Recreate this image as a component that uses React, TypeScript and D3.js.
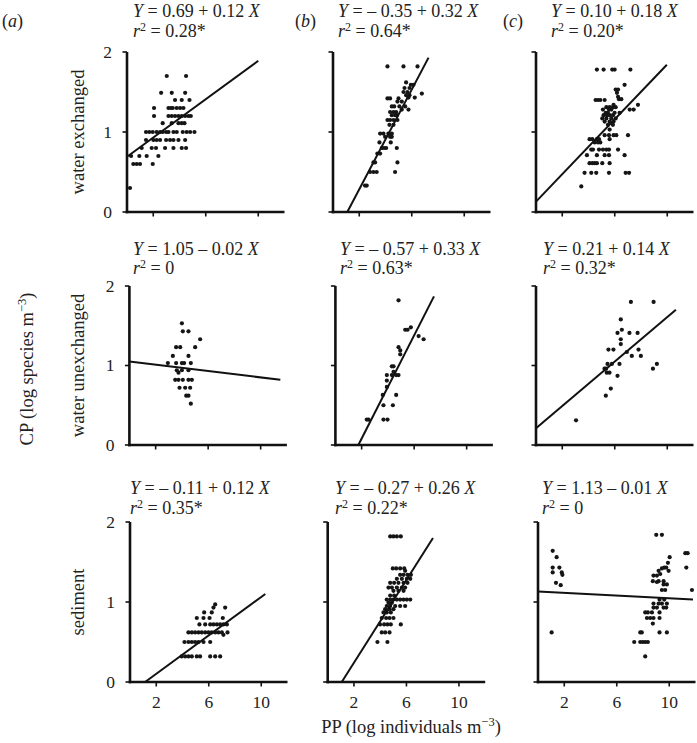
import React from "react";
import * as d3 from "d3";

type Row = [number, number[]];

// ---------- data (X = log individuals, Y = log species) ----------
const rowNames = ["water exchanged", "water unexchanged", "sediment"];
const colLabels = ["(a)", "(b)", "(c)"];
const xTicks = [2, 6, 10];
const yTicks = [0, 1, 2];

const eqText = [
  ["0.69 + 0.12", "– 0.35 + 0.32", "0.10 + 0.18"],
  ["1.05 – 0.02", "– 0.57 + 0.33", "0.21 + 0.14"],
  ["– 0.11 + 0.12", "– 0.27 + 0.26", "1.13 – 0.01"],
];
const r2Text = [
  ["0.28*", "0.64*", "0.20*"],
  ["0", "0.63*", "0.32*"],
  ["0.35*", "0.22*", "0"],
];

// fitted line end points [x0, y0, x1, y1]
const fitLines = [
  [[0, 0.69, 10, 1.89], [1.09, 0, 7.28, 1.93], [0, 0.13, 9.97, 1.84]],
  [[0, 1.05, 11.5, 0.82], [1.75, 0, 7.51, 1.87], [0, 0.21, 10.66, 1.7]],
  [[1.15, 0, 10.31, 1.1], [1.07, 0, 8.02, 1.8], [0, 1.13, 11.81, 1.03]],
];

const exA: Row[] = [
  [1.7, [3.03, 4.5]],
  [1.49, [2.6, 3.41, 4.43]],
  [1.4, [3.66, 4.17, 4.76]],
  [1.3, [2.06, 3.16, 3.35, 3.49, 3.79, 4.05, 4.3]],
  [1.2, [2.06, 3.16, 3.41, 3.66, 3.92, 4.17, 4.43, 4.68, 4.86]],
  [1.11, [2.72, 3.41, 3.92, 4.17, 4.38]],
  [1.0, [1.45, 1.7, 1.96, 2.26, 2.52, 2.72, 2.98, 3.16, 3.54, 3.79, 4.25, 4.55, 4.81, 5.14]],
  [0.9, [1.45, 2.01, 2.26, 2.52, 2.98, 3.28, 3.54, 3.92, 4.43]],
  [0.8, [1.12, 1.88, 2.21, 2.9, 3.54, 4.17, 4.5]],
  [0.7, [0.31, 0.94, 1.5, 2.39]],
  [0.6, [0.48, 0.74, 0.99, 1.96]],
  [0.3, [0.23]],
];
const exB: Row[] = [
  [1.82, [4.15, 5.37, 6.44]],
  [1.62, [5.57]],
  [1.59, [5.93, 6.13]],
  [1.55, [5.45, 5.83]],
  [1.5, [5.37, 5.67]],
  [1.48, [6.77]],
  [1.46, [5.57, 5.83]],
  [1.43, [5.75, 6.23]],
  [1.42, [4.15, 4.35, 4.99]],
  [1.38, [4.91, 5.24]],
  [1.32, [4.48, 4.66, 5.06, 5.5]],
  [1.28, [5.24, 5.75]],
  [1.25, [4.35, 4.61, 4.81]],
  [1.21, [4.48, 4.73, 4.86]],
  [1.15, [4.15, 4.35, 4.61, 4.91]],
  [1.09, [4.3, 4.61]],
  [0.98, [3.59, 3.84, 4.22, 4.48]],
  [0.94, [3.97, 4.35, 4.48]],
  [0.87, [3.54, 4.4]],
  [0.8, [3.72, 3.89, 4.05, 4.86]],
  [0.73, [3.38, 3.59]],
  [0.62, [3.08, 3.21, 4.91]],
  [0.5, [2.82, 3.08, 3.33, 4.73]],
  [0.33, [2.44, 2.57]],
];
const exC: Row[] = [
  [1.78, [4.64, 5.15, 5.81, 5.99, 7.19]],
  [1.59, [6.75]],
  [1.53, [6.07, 6.25]],
  [1.49, [6.17]],
  [1.44, [6.25]],
  [1.41, [6.32, 6.5]],
  [1.4, [4.54, 4.72, 4.9, 5.23]],
  [1.34, [5.91, 7.77]],
  [1.31, [5.36, 5.61, 5.86, 6.07]],
  [1.28, [5.1, 5.56, 5.74, 7.14, 7.44]],
  [1.24, [5.31, 5.48, 5.99, 6.37]],
  [1.21, [5.15, 5.41, 5.61, 5.86]],
  [1.17, [5.05, 5.36, 5.74, 6.07]],
  [1.13, [5.23, 5.61, 5.91]],
  [1.09, [5.48, 5.86]],
  [1.03, [5.61]],
  [0.96, [5.23, 5.56, 5.91, 6.12, 7.01]],
  [0.91, [4.08, 4.29, 4.64, 4.8, 5.61]],
  [0.87, [4.47, 4.72, 4.9]],
  [0.78, [4.21, 4.34, 4.8, 5.1, 5.36, 5.56, 6.25]],
  [0.71, [3.88, 4.64, 5.23, 5.56, 6.75]],
  [0.61, [4.08, 4.29, 4.47, 4.64, 5.05, 5.61]],
  [0.49, [3.7, 4.21, 4.59, 5.56, 6.83, 7.09]],
  [0.32, [3.45]],
];
const unA: Row[] = [
  [1.53, [4.0]],
  [1.43, [4.07, 4.5]],
  [1.33, [5.39]],
  [1.23, [3.56, 3.87, 5.01]],
  [1.12, [3.31, 4.5]],
  [1.03, [2.93, 3.56, 4.0, 4.17, 4.68]],
  [0.94, [3.61, 4.0, 4.5]],
  [0.91, [3.74]],
  [0.82, [3.49, 3.74, 4.07, 4.5, 4.76]],
  [0.72, [3.82, 4.25, 4.63]],
  [0.62, [4.33, 4.5]],
  [0.52, [4.68]],
];
const unB: Row[] = [
  [1.82, [4.81]],
  [1.48, [5.75]],
  [1.45, [5.32, 5.5]],
  [1.37, [6.34]],
  [1.33, [6.72]],
  [1.23, [4.81]],
  [1.19, [4.94]],
  [1.14, [4.94]],
  [0.99, [4.3, 4.43]],
  [0.92, [4.43]],
  [0.88, [3.92, 4.3, 4.63, 4.81]],
  [0.81, [3.92]],
  [0.73, [3.92]],
  [0.63, [3.61, 4.63]],
  [0.5, [3.66, 4.38]],
  [0.32, [2.39, 2.52, 3.66, 3.97]],
];
const unC: Row[] = [
  [1.8, [7.23, 8.96]],
  [1.58, [6.46]],
  [1.45, [6.54]],
  [1.41, [6.21, 7.12, 7.74]],
  [1.33, [6.46]],
  [1.27, [6.46]],
  [1.2, [5.52, 5.9, 7.81]],
  [1.17, [6.92]],
  [1.12, [7.3, 7.99]],
  [1.02, [5.45, 5.78, 6.36, 9.21]],
  [0.96, [5.22, 5.34, 8.91]],
  [0.91, [5.39, 5.6]],
  [0.87, [6.21]],
  [0.71, [5.7]],
  [0.62, [5.32]],
  [0.31, [3.05]],
];
const sedA: Row[] = [
  [0.97, [6.49]],
  [0.93, [6.36, 7.25]],
  [0.87, [5.65, 6.23]],
  [0.8, [5.09, 5.6, 6.06, 7.07]],
  [0.72, [5.29, 5.73, 6.11, 6.36, 6.62, 6.87, 7.12, 7.38]],
  [0.62, [4.45, 4.71, 4.96, 5.22, 5.47, 5.73, 5.98, 6.23, 6.49, 6.74, 7.0, 7.43]],
  [0.59, [7.12]],
  [0.5, [4.15, 4.45, 4.71, 4.96, 5.22, 5.6, 6.11]],
  [0.32, [3.94, 4.2, 4.45, 4.71, 5.09, 5.34, 6.11, 6.49, 6.87]],
];
const sedB: Row[] = [
  [1.82, [4.76, 5.01, 5.27, 5.57]],
  [1.42, [4.96, 5.22, 5.52, 5.83]],
  [1.39, [5.9]],
  [1.34, [5.52, 5.78, 6.08, 6.34]],
  [1.29, [5.27, 5.65, 6.03, 6.29]],
  [1.24, [4.76, 5.06, 5.39, 5.78, 6.08]],
  [1.18, [4.63, 4.89, 5.27, 5.65, 5.9]],
  [1.14, [5.01, 5.39, 5.78]],
  [1.08, [4.76, 5.06]],
  [1.03, [4.5, 4.76, 5.01, 5.27, 5.52, 5.78, 6.03, 6.29]],
  [0.99, [4.63, 4.89]],
  [0.95, [4.5, 4.76, 5.14, 5.52, 5.9]],
  [0.91, [4.38, 4.71, 5.01]],
  [0.87, [4.25, 4.5, 4.81]],
  [0.8, [4.12, 4.45, 4.71, 5.01]],
  [0.72, [3.99, 4.3, 4.55, 4.81, 5.57]],
  [0.62, [4.12, 4.38, 4.71]],
  [0.5, [3.79, 4.55]],
];
const sedC: Row[] = [
  [1.84, [9.01, 9.44]],
  [1.64, [1.12]],
  [1.61, [11.22, 11.4]],
  [1.56, [1.42, 10.03]],
  [1.49, [9.9]],
  [1.43, [1.12, 1.63, 9.62, 9.77, 11.3]],
  [1.42, [9.44]],
  [1.39, [9.19, 9.95]],
  [1.37, [1.12, 1.81]],
  [1.35, [9.31]],
  [1.34, [1.86]],
  [1.33, [8.8, 9.06]],
  [1.26, [8.75, 9.19, 9.57]],
  [1.25, [9.06]],
  [1.24, [1.37]],
  [1.22, [9.57, 9.82]],
  [1.21, [1.73]],
  [1.15, [9.44, 9.69, 11.73]],
  [1.03, [9.26, 9.62]],
  [0.98, [8.8, 9.19, 9.44, 9.82]],
  [0.93, [8.8, 9.06, 9.57, 9.77]],
  [0.87, [8.17, 8.37, 8.68, 9.26]],
  [0.8, [8.3, 8.55, 8.8, 9.26]],
  [0.73, [8.75]],
  [0.62, [1.04, 7.79, 7.91, 9.26, 9.82]],
  [0.5, [7.33, 7.79, 7.99, 8.17, 8.37]],
  [0.32, [8.17]],
];

const panelData: Row[][][] = [
  [exA, exB, exC],
  [unA, unB, unC],
  [sedA, sedB, sedC],
];

// ---------- layout ----------
const W = 697;
const H = 743;
const panelX0 = [
  [127, 333, 536],
  [129.4, 335.4, 536],
  [130, 327.7, 538],
];
const panelY0 = [212, 445, 682];
const xSpan = 157.5;
const ySpan = [160, 159, 160];
const eqX = [
  [133, 338, 551],
  [133, 340, 543],
  [130, 335, 542],
];
const eqY = [
  [17, 37],
  [255, 274],
  [494, 514],
];
const colLabelX = [2, 295, 503];
const FONT = "'Liberation Serif', 'Times New Roman', Times, serif";

export default function App() {
  const items: React.ReactNode[] = [];

  panelData.forEach((row, ri) => {
    row.forEach((rows, ci) => {
      const x0 = panelX0[ri][ci];
      const y0 = panelY0[ri];
      const x = d3.scaleLinear().domain([0, 12]).range([x0, x0 + xSpan]);
      const y = d3.scaleLinear().domain([0, 2]).range([y0, y0 - ySpan[ri]]);
      const key = `p${ri}${ci}`;

      // axes
      items.push(
        <line key={key + "ya"} x1={x(0)} x2={x(0)} y1={y(0) + 1.3} y2={y(2)} stroke="#111" strokeWidth={2.6} />,
        <line key={key + "xa"} x1={x(0) - 1.3} x2={x(12)} y1={y(0)} y2={y(0)} stroke="#111" strokeWidth={2.6} />
      );
      yTicks.forEach((t) => {
        items.push(
          <line key={key + "yt" + t} x1={x(0) - 4.5} x2={x(0)} y1={y(t)} y2={y(t)} stroke="#111" strokeWidth={1.6} />
        );
        if (ci === 0) {
          items.push(
            <text key={key + "yl" + t} x={x(0) - 15} y={y(t)} dy="0.34em" textAnchor="end" fontSize={17.5} fontFamily={FONT} fill="#222">
              {t}
            </text>
          );
        }
      });
      xTicks.forEach((t) => {
        items.push(
          <line key={key + "xt" + t} x1={x(t)} x2={x(t)} y1={y(0)} y2={y(0) + 4.5} stroke="#111" strokeWidth={1.6} />
        );
        if (ri === 2) {
          items.push(
            <text key={key + "xl" + t} x={x(t)} y={708} textAnchor="middle" fontSize={17.5} fontFamily={FONT} fill="#222">
              {t}
            </text>
          );
        }
      });

      // points
      rows.forEach(([yv, xs], k) => {
        xs.forEach((xv, j) => {
          items.push(<circle key={key + "c" + k + "_" + j} cx={x(xv)} cy={y(yv)} r={2.1} fill="#151515" />);
        });
      });

      // fit line
      const f = fitLines[ri][ci];
      const path = d3.line<[number, number]>()
        .x((d) => x(d[0]))
        .y((d) => y(d[1]))([[f[0], f[1]], [f[2], f[3]]]);
      items.push(<path key={key + "fit"} d={path || ""} stroke="#111" strokeWidth={2} fill="none" />);

      // equations
      items.push(
        <text key={key + "eq"} x={eqX[ri][ci]} y={eqY[ri][0]} fontSize={18} fontFamily={FONT} fill="#222">
          <tspan fontStyle="italic">Y</tspan>
          {" = " + eqText[ri][ci] + " "}
          <tspan fontStyle="italic">X</tspan>
        </text>,
        <text key={key + "r2"} x={eqX[ri][ci]} y={eqY[ri][1]} fontSize={18} fontFamily={FONT} fill="#222">
          <tspan fontStyle="italic">r</tspan>
          <tspan dy={-6.5} fontSize={12}>2</tspan>
          <tspan dy={6.5}>{" = " + r2Text[ri][ci]}</tspan>
        </text>
      );
    });

    // row label
    const mid = panelY0[ri] - ySpan[ri] / 2;
    items.push(
      <text key={"rl" + ri} transform={`translate(84,${mid}) rotate(-90)`} textAnchor="middle" fontSize={18.5} fontFamily={FONT} fill="#222">
        {rowNames[ri]}
      </text>
    );
  });

  colLabels.forEach((l, i) => {
    items.push(
      <text key={"cl" + i} x={colLabelX[i]} y={27} fontSize={18} fontFamily={FONT} fill="#222">
        (<tspan fontStyle="italic">{l.slice(1, 2)}</tspan>)
      </text>
    );
  });

  return (
    <svg width={W} height={H} viewBox={`0 0 ${W} ${H}`} style={{ position: "absolute", left: 0, top: 0, background: "#fff" }}>
      <rect width={W} height={H} fill="#fff" />
      {items}
      <text transform="translate(33,369) rotate(-90)" textAnchor="middle" fontSize={18.5} fontFamily={FONT} fill="#222">
        CP (log species m
        <tspan dy={-7} fontSize={12.5}>−3</tspan>
        <tspan dy={7}>)</tspan>
      </text>
      <text x={411} y={733} textAnchor="middle" fontSize={18.5} fontFamily={FONT} fill="#222">
        PP (log individuals m
        <tspan dy={-7} fontSize={12.5}>−3</tspan>
        <tspan dy={7}>)</tspan>
      </text>
    </svg>
  );
}
